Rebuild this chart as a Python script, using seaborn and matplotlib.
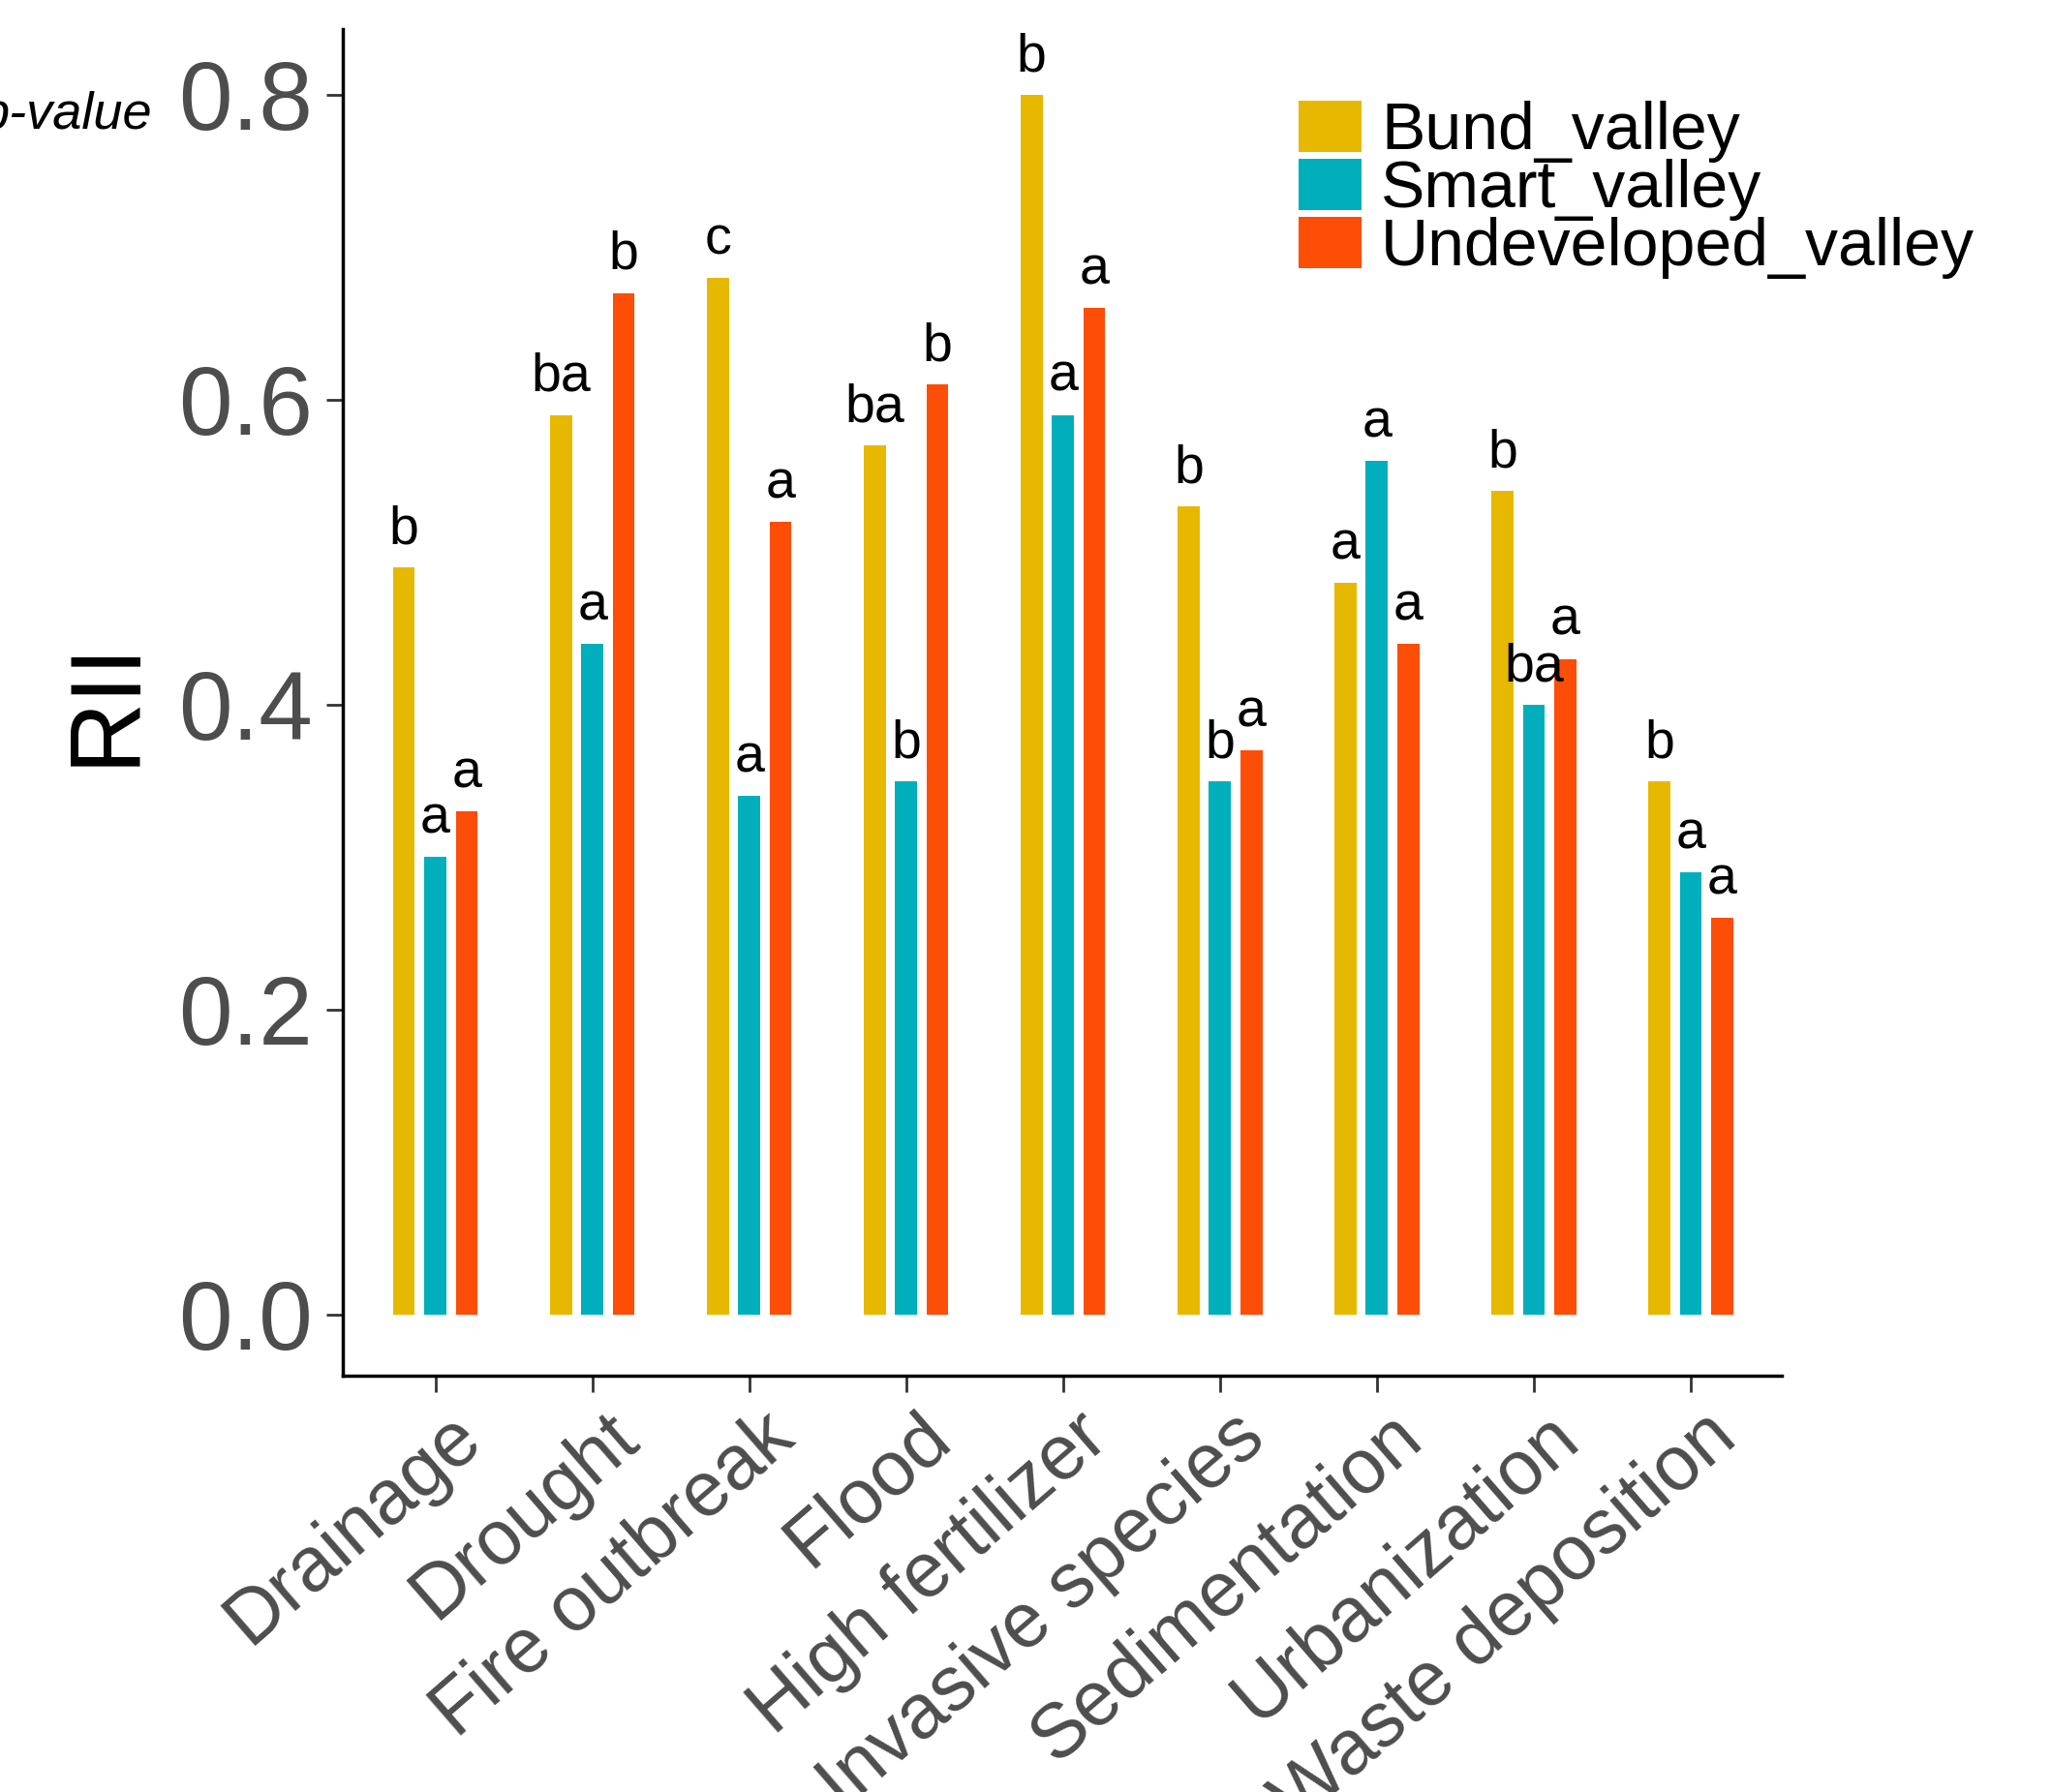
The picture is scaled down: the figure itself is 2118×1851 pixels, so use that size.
import pandas as pd
import matplotlib
matplotlib.use("Agg")
import matplotlib.pyplot as plt
import matplotlib.transforms as mtransforms
import seaborn as sns

# Data
categories = ["Drainage", "Drought", "Fire outbreak", "Flood", "High fertilizer",
              "Invasive species", "Sedimentation", "Urbanization", "Waste deposition"]
groups = ["Bund_valley", "Smart_valley", "Undeveloped_valley"]
bund = [0.49, 0.59, 0.68, 0.57, 0.80, 0.53, 0.48, 0.54, 0.35]
smart = [0.30, 0.44, 0.34, 0.35, 0.59, 0.35, 0.56, 0.40, 0.29]
undev = [0.33, 0.67, 0.52, 0.61, 0.66, 0.37, 0.44, 0.43, 0.26]
bund_letters = ["b", "ba", "c", "ba", "b", "b", "a", "b", "b"]
smart_letters = ["a", "a", "a", "b", "a", "b", "a", "ba", "a"]
undev_letters = ["a", "b", "a", "b", "a", "a", "a", "a", "a"]
colors = ["#E7B800", "#00AFBB", "#FC4E07"]

df = pd.DataFrame({
    "Hazard": categories * 3,
    "RII": bund + smart + undev,
    "Valley": [groups[0]] * 9 + [groups[1]] * 9 + [groups[2]] * 9,
})
letters = [bund_letters, smart_letters, undev_letters]

sns.set_style("white")
plt.rcParams["font.family"] = ["Liberation Sans", "DejaVu Sans"]

fig = plt.figure(figsize=(21.18, 18.51), dpi=100)
ax = fig.add_axes([0.1671, 0.2323, 0.8687 - 0.1671, 0.9838 - 0.2323])

sns.barplot(data=df, x="Hazard", y="RII", hue="Valley", palette=colors, saturation=1,
            width=0.6, gap=0.3, ax=ax, errorbar=None, edgecolor="none")

# significance letters above each bar
for cont, labs in zip(ax.containers, letters):
    for bar, lab in zip(cont, labs):
        ax.text(bar.get_x() + bar.get_width() / 2, bar.get_height() + 0.008, lab,
                ha="center", va="bottom", fontsize=40, color="black")

ax.set_xlim(-0.59, 8.58)
ax.set_ylim(-0.04, 0.843)
ax.set_yticks([0.0, 0.2, 0.4, 0.6, 0.8])
ax.set_yticklabels(["0.0", "0.2", "0.4", "0.6", "0.8"])
ax.set_xlabel("")
ax.set_ylabel("RII", fontsize=74, color="black")
ax.yaxis.set_label_coords(-0.131, 0.5)

for s in ["top", "right"]:
    ax.spines[s].set_visible(False)
for s in ["left", "bottom"]:
    ax.spines[s].set_color("black")
    ax.spines[s].set_linewidth(2.5)

ax.tick_params(axis="both", which="both", length=12, width=2, color="#333333",
               labelcolor="#4D4D4D", left=True, bottom=True)
ax.tick_params(axis="y", labelsize=72, pad=10)
ax.tick_params(axis="x", labelsize=57, pad=6)
shift = mtransforms.ScaledTranslation(0.12, 0, fig.dpi_scale_trans)
for lbl in ax.get_xticklabels():
    lbl.set_rotation(41)
    lbl.set_ha("right")
    lbl.set_va("top")
    lbl.set_rotation_mode("anchor")
    lbl.set_transform(lbl.get_transform() + shift)

handles, labels = ax.get_legend_handles_labels()
ax.get_legend().remove()
fig.legend(handles, labels, loc="upper left", bbox_to_anchor=(1341 / 2118, 1 - 104 / 1851),
           frameon=False, fontsize=49, handlelength=0.95, handleheight=0.82,
           handletextpad=0.3, labelspacing=-0.06, borderpad=0, borderaxespad=0,
           labelcolor="black")

# p-value note, partly cut at the left edge as in the original
fig.text(157 / 2118, 1 - 119 / 1851, "p-value", ha="right", va="center",
         fontsize=39, style="italic", color="black",
         family=["Liberation Sans Narrow", "Liberation Sans"])

fig.savefig("out.png", dpi=100)
